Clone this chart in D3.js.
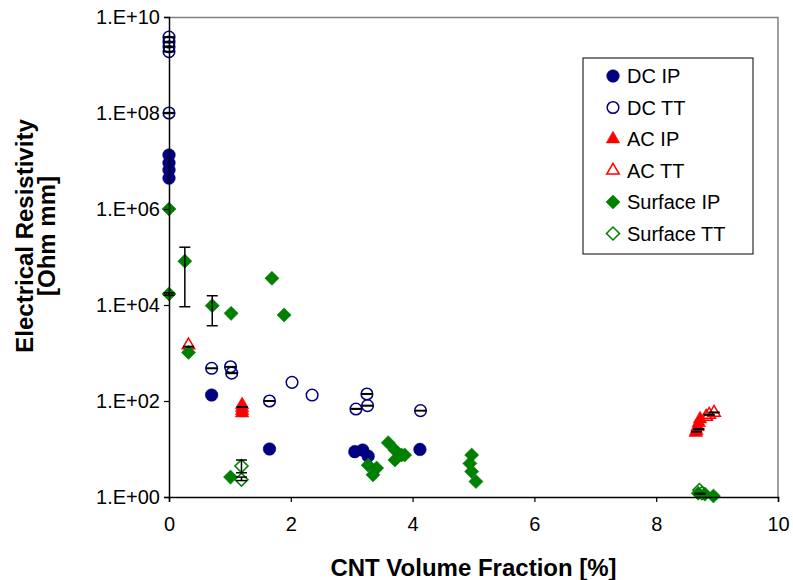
<!DOCTYPE html>
<html>
<head>
<meta charset="utf-8">
<script src="https://cdn.jsdelivr.net/npm/d3@7"></script>
<style>
  body { margin: 0; background: #fff; }
  text { font-family: Arial, "Liberation Sans", sans-serif; }
</style>
</head>
<body>
<div id="chart"></div>
<script>
const width = 793;
const height = 580;
const margin = { top: 17, right: 15, bottom: 83, left: 169 };

// series values (x = CNT volume fraction %, y = resistivity Ohm mm)
const dcIpX = [0, 0, 0, 0, 0.70, 1.65, 3.05, 3.18, 3.27, 4.12];
const dcIpY = [1.33e7, 9.1e6, 6.5e6, 4.4e6, 133, 10, 8.8, 9.5, 7.1, 9.8];

const dcTtX = [0, 0, 0, 0, 0, 0.70, 1.01, 1.03, 1.65, 2.02, 2.35, 3.07, 3.25, 3.26, 4.13];
const dcTtY = [3.8e9, 3.0e9, 2.4e9, 1.9e9, 1.0e8, 480, 517, 380, 100, 245, 133, 68, 140, 80, 63];

const acIpX = [1.2, 1.2, 1.2, 1.2, 8.72, 8.70, 8.68, 8.66, 8.65];
const acIpY = [83, 72, 63, 56, 42, 35, 29, 24, 22];

const acTtX = [0.32, 8.82, 8.87, 8.95];
const acTtY = [1450, 47, 52, 57];

const surfIpX = [0, 0, 0.26, 0.32, 0.71, 1.02, 1.69, 1.89, 1.01, 3.27, 3.41, 3.35, 3.60, 3.71, 3.82, 3.71, 3.87, 4.97, 4.94, 4.97, 5.04, 8.69, 8.80, 8.94];
const surfIpY = [1e6, 1.7e4, 8.2e4, 1030, 9700, 6700, 3.6e4, 6200, 2.6, 4.6, 4.0, 2.9, 13.5, 9.5, 7.5, 5.9, 7.5, 7.5, 5.0, 3.4, 2.1, 1.2, 1.15, 1.05];

const surfTtX = [1.19, 1.19, 8.71, 8.75];
const surfTtY = [4.4, 2.3, 1.4, 1.2];

// error bars: x, low, high
const errX  = [0, 0, 0, 0, 0, 0.70, 1.01, 1.03, 1.65, 3.07, 3.25, 3.26, 4.13,
               1.2, 8.66, 8.70, 0.32, 8.87, 8.95,
               0, 0.26, 0.71, 8.72, 1.19, 1.19];
const errLo = [3.75e9, 2.95e9, 2.37e9, 1.88e9, 0.98e8, 475, 510, 375, 99, 67.5, 138, 79, 62.5,
               74, 22.7, 25.7, 1340, 51, 57,
               1.6e4, 9.2e3, 3.7e3, 1.15, 3.2, 2.2];
const errHi = [3.85e9, 3.05e9, 2.43e9, 1.92e9, 1.02e8, 485, 520, 385, 101, 69.5, 142, 81, 63.5,
               76, 23.3, 26.3, 1370, 52.5, 58.5,
               1.8e4, 1.6e5, 1.56e4, 1.2, 5.9, 2.6];

const xTicks = [0, 2, 4, 6, 8, 10];
const yTicks = [1, 1e2, 1e4, 1e6, 1e8, 1e10];
const yTickLabels = ["1.E+00", "1.E+02", "1.E+04", "1.E+06", "1.E+08", "1.E+10"];

const navy = "#000080", red = "#ff0000", green = "#008000";

const series = [
    { name: "DC IP", xs: dcIpX, ys: dcIpY, shape: "circle", color: navy, filled: true },
    { name: "DC TT", xs: dcTtX, ys: dcTtY, shape: "circle", color: navy, filled: false },
    { name: "AC IP", xs: acIpX, ys: acIpY, shape: "triangle", color: red, filled: true },
    { name: "AC TT", xs: acTtX, ys: acTtY, shape: "triangle", color: red, filled: false },
    { name: "Surface IP", xs: surfIpX, ys: surfIpY, shape: "diamond", color: green, filled: true },
    { name: "Surface TT", xs: surfTtX, ys: surfTtY, shape: "diamond", color: green, filled: false }
];

const iw = width - margin.left - margin.right;
const ih = height - margin.top - margin.bottom;

const x = d3.scaleLinear().domain([0, 10]).range([0, iw]);
const y = d3.scaleLog().domain([1, 1e10]).range([ih, 0]);

const svg = d3.select("#chart")
    .append("svg")
    .attr("width", width)
    .attr("height", height);

const g = svg.append("g")
    .attr("transform", `translate(${margin.left},${margin.top})`);

// plot frame: grey top and right
g.append("path")
    .attr("d", `M0,0.5H${iw}V${ih}`)
    .attr("fill", "none")
    .attr("stroke", "#808080")
    .attr("stroke-width", 1.5);

const symTypes = { circle: d3.symbolCircle, triangle: d3.symbolTriangle, diamond: d3.symbolSquare };
const symSizes = { circle: 125, triangle: 80, diamond: 100 };

function markerPath(shape, filled) {
    const size = filled ? symSizes[shape] : symSizes[shape] * 0.85;
    return d3.symbol().type(symTypes[shape]).size(size)();
}

function drawMarker(sel, s) {
    sel.append("path")
        .attr("d", markerPath(s.shape, s.filled))
        .attr("transform", d => `translate(${d[0]},${d[1]})` + (s.shape === "diamond" ? " rotate(45)" : ""))
        .attr("fill", s.filled ? s.color : "none")
        .attr("stroke", s.color)
        .attr("stroke-width", s.filled ? 0.5 : 1.5);
}

// markers
series.forEach(s => {
    const pts = s.xs.map((v, i) => [x(v), y(s.ys[i])]);
    const sg = g.append("g");
    sg.selectAll("g")
        .data(pts)
        .enter()
        .append("g")
        .each(function(d) { drawMarker(d3.select(this), s); });
});

// error bars
const eb = g.append("g").attr("stroke", "#000").attr("stroke-width", 1.5);
errX.forEach((v, i) => {
    const cx = x(v), y0 = y(errLo[i]), y1 = y(errHi[i]);
    eb.append("line").attr("x1", cx).attr("x2", cx).attr("y1", y0).attr("y2", y1);
    eb.append("line").attr("x1", cx - 5.5).attr("x2", cx + 5.5).attr("y1", y0).attr("y2", y0);
    eb.append("line").attr("x1", cx - 5.5).attr("x2", cx + 5.5).attr("y1", y1).attr("y2", y1);
});

// axes
const xAxis = d3.axisBottom(x).tickValues(xTicks).tickSize(5).tickPadding(15).tickFormat(d3.format("d"));
const yAxis = d3.axisLeft(y).tickValues(yTicks).tickSize(5).tickPadding(4)
    .tickFormat((d, i) => yTickLabels[i]);

const gx = g.append("g").attr("transform", `translate(0,${ih})`).call(xAxis);
const gy = g.append("g").call(yAxis);

[gx, gy].forEach(a => {
    a.select(".domain").attr("stroke", "#000").attr("stroke-width", 1.5);
    a.selectAll(".tick line").attr("stroke", "#000").attr("stroke-width", 1.2);
    a.selectAll(".tick text")
        .attr("fill", "#000")
        .style("font-size", "20px")
        .style("font-family", "Arial, 'Liberation Sans', sans-serif");
});

// axis titles
svg.append("text")
    .attr("x", margin.left + iw / 2)
    .attr("y", 576)
    .attr("text-anchor", "middle")
    .style("font-size", "24px")
    .style("font-weight", "bold")
    .text("CNT Volume Fraction [%]");

const yt = svg.append("text")
    .attr("transform", "translate(33,236) rotate(-90)")
    .attr("text-anchor", "middle")
    .style("font-size", "24px")
    .style("font-weight", "bold");
yt.append("tspan").attr("x", 0).attr("y", 0).text("Electrical Resistivity");
yt.append("tspan").attr("x", 0).attr("y", 22).text("[Ohm mm]");

// legend
const lg = svg.append("g").attr("transform", "translate(583,58)");
lg.append("rect")
    .attr("width", 170)
    .attr("height", 196)
    .attr("fill", "#fff")
    .attr("stroke", "#000")
    .attr("stroke-width", 1);

series.forEach((s, i) => {
    const row = lg.append("g").attr("transform", `translate(0,${18 + i * 31.5})`);
    row.append("g").datum([30, 0]).call(sel => drawMarker(sel, s));
    row.append("text")
        .attr("x", 44)
        .attr("y", 7)
        .style("font-size", "20px")
        .text(s.name);
});
</script>
</body>
</html>
